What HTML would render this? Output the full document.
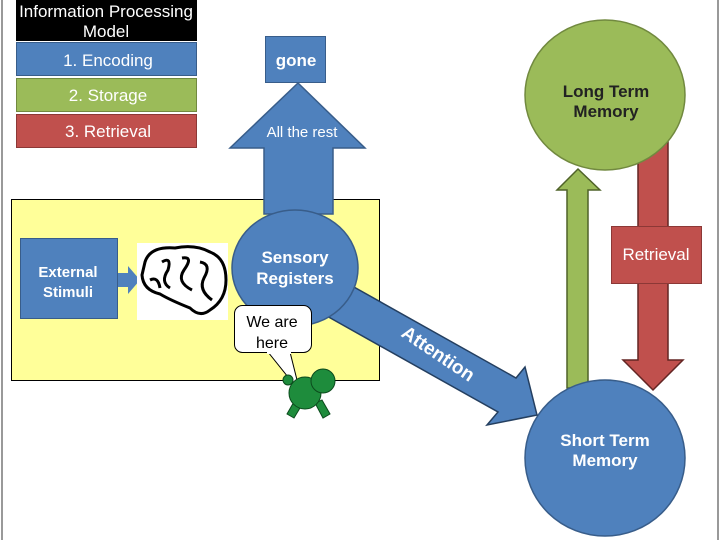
<!DOCTYPE html>
<html><head><meta charset="utf-8"><style>
body{margin:0;background:#fff}
svg{display:block}
text{font-family:"Liberation Sans",Arial,sans-serif}
</style></head><body>
<svg width="720" height="540" viewBox="0 0 720 540" xmlns="http://www.w3.org/2000/svg">
<rect x="0" y="0" width="720" height="540" fill="#fff"/>
<line x1="2" y1="0" x2="2" y2="540" stroke="#333" stroke-width="1"/>
<line x1="718" y1="0" x2="718" y2="540" stroke="#333" stroke-width="1"/>
<!-- legend -->
<rect x="16" y="0" width="181" height="41" fill="#000"/>
<text x="106" y="17" fill="#fff" font-size="17" text-anchor="middle">Information Processing</text>
<text x="106" y="37" fill="#fff" font-size="17" text-anchor="middle">Model</text>
<rect x="16.5" y="42.5" width="180" height="33" fill="#4f81bd" stroke="#385d8a"/>
<text x="108" y="66" fill="#fff" font-size="17" text-anchor="middle">1. Encoding</text>
<rect x="16.5" y="78.5" width="180" height="33" fill="#9bbb59" stroke="#71893f"/>
<text x="108" y="101" fill="#fff" font-size="17" text-anchor="middle">2. Storage</text>
<rect x="16.5" y="114.5" width="180" height="33" fill="#c0504d" stroke="#8c3836"/>
<text x="108" y="137" fill="#fff" font-size="17" text-anchor="middle">3. Retrieval</text>
<!-- yellow box -->
<rect x="11.5" y="199.5" width="368" height="181" fill="#ffff99" stroke="#000"/>
<!-- up arrow -->
<polygon points="298,83 365,148 333,148 333,214 264,214 264,148 230,148" fill="#4f81bd" stroke="#385d8a" stroke-width="1.5"/>
<text x="302" y="137" fill="#fff" font-size="15" text-anchor="middle">All the rest</text>
<rect x="265.5" y="36.5" width="60" height="46" fill="#4f81bd" stroke="#385d8a"/>
<text x="296" y="66" fill="#fff" font-size="17" font-weight="bold" text-anchor="middle">gone</text>
<!-- green arrow -->
<polygon points="578,169 600,190 588,190 588,388 567,388 567,190 557,190" fill="#9bbb59" stroke="#4f6228" stroke-width="1.5"/>
<!-- red arrow -->
<polygon points="638,120 668,120 668,360 683,360 653,390 623,360 638,360" fill="#c0504d" stroke="#632523" stroke-width="1.5"/>
<rect x="611.5" y="226.5" width="90" height="57" fill="#c0504d" stroke="#8c3836"/>
<text x="656" y="260" fill="#fff" font-size="17" text-anchor="middle">Retrieval</text>
<!-- LTM -->
<ellipse cx="605" cy="95" rx="80" ry="75" fill="#9bbb59" stroke="#71893f" stroke-width="1.5"/>
<text x="606" y="97" fill="#222" font-size="17" font-weight="bold" text-anchor="middle">Long Term</text>
<text x="606" y="117" fill="#222" font-size="17" font-weight="bold" text-anchor="middle">Memory</text>
<!-- STM -->
<ellipse cx="605" cy="458" rx="80" ry="78" fill="#4f81bd" stroke="#385d8a" stroke-width="1.5"/>
<text x="605" y="446" fill="#fff" font-size="17" font-weight="bold" text-anchor="middle">Short Term</text>
<text x="605" y="466" fill="#fff" font-size="17" font-weight="bold" text-anchor="middle">Memory</text>
<!-- attention arrow -->
<polygon points="345,282 516,378 525,367 537,415 487,425 498,412 325,315" fill="#4f81bd" stroke="#243f60" stroke-width="1.5"/>
<text x="438" y="360" fill="#fff" font-size="19" font-weight="bold" text-anchor="middle" transform="rotate(34 438 354)">Attention</text>
<!-- sensory -->
<ellipse cx="295" cy="268" rx="63" ry="58" fill="#4f81bd" stroke="#385d8a" stroke-width="1.5"/>
<text x="295" y="263" fill="#fff" font-size="17" font-weight="bold" text-anchor="middle">Sensory</text>
<text x="295" y="284" fill="#fff" font-size="17" font-weight="bold" text-anchor="middle">Registers</text>
<!-- external -->
<rect x="20.5" y="238.5" width="97" height="80" fill="#4f81bd" stroke="#385d8a"/>
<text x="68" y="277" fill="#fff" font-size="15" font-weight="bold" text-anchor="middle">External</text>
<text x="68" y="297" fill="#fff" font-size="15" font-weight="bold" text-anchor="middle">Stimuli</text>
<polygon points="118,273 128,273 128,266 140,280 128,294 128,287 118,287" fill="#4f81bd"/>
<!-- brain -->
<rect x="137" y="243" width="91" height="77" fill="#fff"/>
<g fill="none" stroke="#000" stroke-width="3">
<path d="M145,262 Q150,246 175,248 Q195,244 210,252 Q226,258 226,280 Q226,300 210,310 Q200,318 190,308 Q170,300 160,294 Q143,290 142,275 Z"/>
<path d="M162,262 Q172,256 168,270 Q160,282 170,288"/>
<path d="M182,258 Q194,256 184,270 Q176,282 192,290"/>
<path d="M200,262 Q212,264 204,278 Q198,290 212,300"/>
<path d="M150,280 Q158,276 160,288"/>
</g>
<!-- speech bubble -->
<polygon points="268,352 290,352 300,392" fill="#fff" stroke="#000"/>
<rect x="234.5" y="305.5" width="77" height="47" rx="8" fill="#fff" stroke="#000"/>
<rect x="267" y="348" width="24" height="6" fill="#fff"/>
<text x="272" y="327" fill="#000" font-size="16" text-anchor="middle">We are</text>
<text x="272" y="348" fill="#000" font-size="16" text-anchor="middle">here</text>
<!-- turtle -->
<g fill="#1e8c3c" stroke="#0b4a1c">
<polygon points="295,400 303,403 294,418 287,414"/>
<polygon points="315,403 322,400 330,414 323,418"/>
<circle cx="305" cy="393" r="16"/>
<circle cx="323" cy="381" r="12"/>
<circle cx="288" cy="380" r="5"/>
</g>
</svg>
</body></html>
